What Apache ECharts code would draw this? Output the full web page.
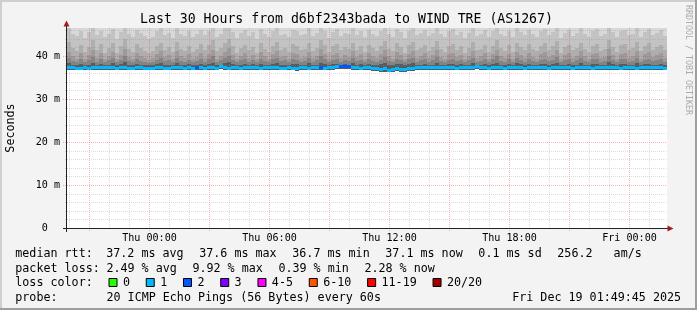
<!DOCTYPE html>
<html><head><meta charset="utf-8">
<script src="https://cdn.jsdelivr.net/npm/echarts@6/dist/echarts.min.js"></script>
<style>html,body{margin:0;padding:0;background:#f3f3f3;overflow:hidden}#c{width:697px;height:310px}</style>
</head><body><div id="c"></div>
<script>
// ---------------- data ----------------
const titleText = 'Last 30 Hours from d6bf2343bada to WIND TRE (AS1267)';
const yAxisName = 'Seconds';
const watermark = 'RRDTOOL / TOBI OETIKER';
// time in hours relative to Thu 00:00
const startHour = -4.125, endHour = 25.875, stepHours = 0.2;
const xLabelHours = [0, 6, 12, 18, 24];
const xLabels = ['Thu 00:00', 'Thu 06:00', 'Thu 12:00', 'Thu 18:00', 'Fri 00:00'];
const xMajorHours = [-3, 0, 3, 6, 9, 12, 15, 18, 21, 24];
const xMinorHours = [-4, -2, -1, 1, 2, 4, 5, 7, 8, 10, 11, 13, 14, 16, 17, 19, 20, 22, 23, 25];
const yMax = 46.5;
const yLabelValues = [0, 10, 20, 30, 40];
const yLabels = ['0  ', '10 m', '20 m', '30 m', '40 m'];
const yMajor = [10, 20, 30, 40];
const yMinor = [2, 4, 6, 8, 12, 14, 16, 18, 22, 24, 26, 28, 32, 34, 36, 38, 42, 44, 46];

// smoke: bottom of smoke (ms)
const smokeLow = [
36.8,36.8,36.7,36.8,36.8,36.7,36.8,36.8,36.8,36.8,
36.8,36.8,36.7,36.8,36.8,36.7,36.8,36.8,36.8,36.7,
36.7,36.8,36.8,36.8,36.7,36.8,36.8,36.8,36.8,36.7,
36.8,36.7,36.8,36.8,36.7,36.8,36.8,36.7,36.9,36.8,
36.7,36.8,36.8,36.7,36.8,36.8,36.8,36.8,36.7,36.8,
36.8,36.8,36.8,36.7,36.7,36.8,36.8,36.6,36.8,36.8,
36.7,36.8,36.8,36.8,36.7,36.8,36.8,36.9,37.0,36.9,
36.9,36.8,36.8,36.7,36.8,36.8,36.6,36.4,36.3,36.3,
36.2,36.3,36.4,36.3,36.3,36.4,36.6,36.8,36.8,36.8,
36.8,36.8,36.8,36.8,36.8,36.8,36.8,36.7,36.8,36.8,
36.8,36.8,36.9,36.8,36.8,36.7,36.8,36.8,36.8,36.7,
36.8,36.8,36.8,36.8,36.7,36.8,36.8,36.8,36.8,36.8,
36.7,36.8,36.8,36.8,36.8,36.8,36.7,36.8,36.8,36.8,
36.8,36.7,36.8,36.8,36.8,36.8,36.8,36.8,36.7,36.8,
36.8,36.8,36.7,36.8,36.8,36.8,36.8,36.8,36.8,36.8];
// upper edges of the smoke bands (outer -> inner)
const smokeU3 = [
46.8,45.2,44.6,45.8,44.1,45.5,46.9,44.8,45.9,44.3,
45.1,46.2,44.0,45.6,47.2,45.0,44.4,46.0,45.3,44.7,
43.9,44.5,45.8,46.5,44.9,45.4,44.2,46.7,45.1,44.6,
45.7,44.3,45.0,46.1,44.8,45.9,47.0,44.5,45.2,46.4,
47.3,45.6,44.1,45.3,46.0,44.7,45.5,44.0,46.3,45.1,
44.4,45.8,46.6,44.9,45.2,44.3,46.1,45.7,44.8,45.0,
46.4,44.6,45.3,47.1,45.9,44.2,45.6,46.2,44.7,45.4,
45.0,46.5,44.9,45.7,44.4,46.0,45.2,44.6,45.8,46.8,
45.1,44.5,46.3,45.5,44.2,45.9,46.7,44.8,45.3,46.0,
44.6,45.4,46.9,45.0,44.3,45.7,46.2,44.9,45.6,44.1,
45.3,46.6,44.7,45.1,46.0,44.4,45.8,47.0,45.2,44.6,
45.9,44.3,46.4,45.5,44.8,46.1,45.0,44.5,45.7,46.3,
44.9,45.6,46.8,44.2,45.4,46.0,44.7,45.3,46.5,45.1,
44.4,45.8,46.2,44.6,45.0,47.2,45.5,44.3,45.9,46.1,
44.8,45.2,46.7,44.5,45.6,46.3,44.9,45.4,46.0,44.7];
const smokeU4 = [
43.2,41.8,41.1,42.5,40.9,42.0,43.6,41.3,42.8,40.7,
41.9,43.0,40.8,42.2,43.9,41.6,41.0,42.7,41.8,41.2,
40.6,41.1,42.4,43.1,41.5,42.0,40.9,43.3,41.7,41.2,
42.3,41.0,41.6,42.8,41.4,42.5,43.7,41.1,41.9,43.0,
44.0,42.2,40.8,41.9,42.6,41.3,42.1,40.7,42.9,41.7,
41.0,42.4,43.2,41.5,41.9,40.9,42.7,42.3,41.4,41.6,
43.0,41.2,41.9,43.8,42.5,40.9,42.2,42.8,41.3,42.0,
41.6,43.1,41.5,42.3,41.0,42.6,41.8,41.2,42.4,43.4,
41.7,41.1,42.9,42.1,40.8,42.5,43.3,41.4,41.9,42.6,
41.2,42.0,43.5,41.6,40.9,42.3,42.8,41.5,42.2,40.8,
41.9,43.2,41.3,41.7,42.6,41.0,42.4,43.6,41.8,41.2,
42.5,40.9,43.0,42.1,41.4,42.7,41.6,41.1,42.3,42.9,
41.5,42.2,43.4,40.8,42.0,42.6,41.3,41.9,43.1,41.7,
41.0,42.4,42.8,41.2,41.6,43.8,42.1,40.9,42.5,42.7,
41.4,41.8,43.3,41.1,42.2,42.9,41.5,42.0,42.6,41.3];
const smokeU5 = [
41.0,39.9,39.4,40.6,39.3,40.2,41.4,39.6,40.8,39.2,
40.1,41.0,39.3,40.3,41.7,39.8,39.4,40.7,40.0,39.5,
39.1,39.5,40.4,41.1,39.7,40.2,39.3,41.2,39.9,39.5,
40.4,39.4,39.8,40.8,39.6,40.5,41.5,39.4,40.1,41.0,
41.8,40.3,39.3,40.1,40.6,39.6,40.3,39.2,40.9,39.9,
39.4,40.5,41.2,39.7,40.1,39.3,40.7,40.4,39.6,39.8,
41.0,39.5,40.1,41.6,40.5,39.3,40.3,40.8,39.6,40.2,
39.8,41.1,39.7,40.4,39.4,40.6,40.0,39.5,40.4,41.3,
39.9,39.4,40.9,40.3,39.2,40.5,41.2,39.6,40.1,40.6,
39.5,40.2,41.4,39.8,39.3,40.4,40.8,39.7,40.3,39.2,
40.1,41.2,39.6,39.9,40.6,39.4,40.5,41.5,40.0,39.5,
40.5,39.3,41.0,40.3,39.6,40.7,39.8,39.4,40.4,40.9,
39.7,40.3,41.3,39.2,40.2,40.6,39.6,40.1,41.1,39.9,
39.4,40.5,40.8,39.5,39.8,41.6,40.3,39.3,40.5,40.7,
39.6,40.0,41.2,39.4,40.4,40.9,39.7,40.2,40.6,39.5];
const smokeU6 = [
39.5,38.9,38.6,39.3,38.5,39.0,39.8,38.7,39.4,38.5,
39.0,39.5,38.5,39.1,39.9,38.8,38.6,39.3,38.9,38.6,
38.4,38.6,39.1,39.6,38.8,39.0,38.5,39.6,38.9,38.6,
39.1,38.6,38.8,39.4,38.7,39.2,39.9,38.6,39.0,39.5,
40.0,39.1,38.5,39.0,39.3,38.7,39.1,38.5,39.4,38.9,
38.6,39.2,39.6,38.8,39.0,38.5,39.3,39.1,38.7,38.8,
39.5,38.6,39.0,39.9,39.2,38.5,39.1,39.4,38.7,39.0,
38.8,39.6,38.8,39.1,38.6,39.3,38.9,38.6,39.1,39.7,
38.9,38.6,39.4,39.1,38.5,39.2,39.6,38.7,39.0,39.3,
38.6,39.0,39.8,38.8,38.5,39.1,39.4,38.8,39.1,38.5,
39.0,39.6,38.7,38.9,39.3,38.6,39.2,39.9,38.9,38.6,
39.2,38.5,39.5,39.1,38.7,39.3,38.8,38.6,39.1,39.4,
38.8,39.1,39.7,38.5,39.0,39.3,38.7,39.0,39.6,38.9,
38.6,39.2,39.4,38.6,38.8,40.0,39.1,38.5,39.2,39.3,
38.7,38.9,39.6,38.6,39.1,39.4,38.8,39.0,39.3,38.6];
const smokeU7 = [
38.3,38.0,37.9,38.2,37.8,38.0,38.4,37.9,38.2,37.8,
38.0,38.3,37.8,38.1,38.5,38.0,37.9,38.2,38.0,37.9,
37.8,37.9,38.1,38.3,38.0,38.0,37.8,38.3,38.0,37.9,
38.1,37.9,38.0,38.2,37.9,38.1,38.4,37.9,38.0,38.3,
38.5,38.1,37.8,38.0,38.2,37.9,38.1,37.8,38.2,38.0,
37.9,38.1,38.3,38.0,38.0,37.8,38.2,38.1,37.9,38.0,
38.3,37.9,38.0,38.4,38.1,37.8,38.1,38.2,38.0,38.1,
38.0,38.3,38.0,38.1,37.9,38.2,38.0,37.9,38.1,38.3,
38.0,37.9,38.2,38.1,37.8,38.1,38.3,37.9,38.0,38.2,
37.9,38.0,38.4,38.0,37.8,38.1,38.2,38.0,38.1,37.8,
38.0,38.3,37.9,38.0,38.2,37.9,38.1,38.4,38.0,37.9,
38.1,37.8,38.3,38.1,37.9,38.2,38.0,37.9,38.1,38.2,
38.0,38.1,38.3,37.8,38.0,38.2,37.9,38.0,38.3,38.0,
37.9,38.1,38.2,37.9,38.0,38.5,38.1,37.8,38.1,38.2,
37.9,38.0,38.3,37.9,38.1,38.2,38.0,38.0,38.2,37.9];
// median rtt (ms) per 12 min step
const medianRtt = [
37.3,37.3,37.2,37.2,37.3,37.2,37.3,37.4,37.4,37.3,
37.4,37.3,37.2,37.3,37.3,37.2,37.2,37.3,37.3,37.2,
37.2,37.2,37.3,37.3,37.2,37.2,37.3,37.3,37.3,37.2,
37.3,37.2,37.3,37.3,37.2,37.3,37.3,37.2,37.5,37.3,
37.2,37.3,37.3,37.2,37.3,37.4,37.3,37.3,37.2,37.3,
37.3,37.4,37.3,37.2,37.2,37.3,37.2,37.1,37.3,37.3,
37.2,37.3,37.3,37.3,37.2,37.3,37.4,37.5,37.6,37.6,
37.5,37.3,37.3,37.2,37.3,37.3,37.2,37.0,36.9,37.0,
36.7,36.9,37.0,36.9,36.9,37.0,37.2,37.3,37.3,37.3,
37.3,37.3,37.3,37.3,37.4,37.3,37.3,37.2,37.3,37.3,
37.3,37.3,37.5,37.3,37.3,37.2,37.3,37.3,37.3,37.2,
37.3,37.3,37.3,37.3,37.2,37.3,37.3,37.3,37.3,37.3,
37.2,37.3,37.3,37.3,37.3,37.3,37.2,37.3,37.3,37.3,
37.3,37.2,37.3,37.4,37.3,37.3,37.3,37.3,37.2,37.3,
37.3,37.3,37.2,37.3,37.3,37.3,37.3,37.4,37.3,37.2];
// lost pings (of 20) per step
const lossCount = [
1,1,1,1,1,1,1,1,1,1, 1,1,1,1,1,1,1,1,1,1, 1,1,1,1,1,1,1,1,1,1,
1,1,2,1,1,1,1,1,1,1, 1,1,1,1,1,1,1,1,1,1, 1,1,1,1,1,1,1,1,1,1,
1,1,1,2,1,1,1,1,2,2, 2,1,1,1,1,1,1,1,1,1, 1,1,1,1,1,1,1,1,1,1,
1,1,1,1,1,1,1,1,1,1, 1,1,1,1,1,1,1,1,1,1, 1,1,1,1,1,1,1,1,1,1,
1,1,1,1,1,1,1,1,1,1, 1,1,1,1,1,1,1,1,1,1, 1,1,1,1,1,1,1,1,1,1];
const lossLimits = [0, 1, 2, 3, 5, 10, 19, 20];
const lossLabels = ['0', '1', '2', '3', '4-5', '6-10', '11-19', '20/20'];
const lossColors = ['#26ff00', '#00b8ff', '#0059ff', '#7e00ff', '#ff00ff', '#ff5500', '#ff0000', '#a10000'];

const medianStats = ['37.2 ms avg', '37.6 ms max', '36.7 ms min', '37.1 ms now', '0.1 ms sd', '256.2', 'am/s'];
const lossStats = ['2.49 % avg', '9.92 % max', '0.39 % min', '2.28 % now'];
const rowLabels = ['median rtt:', 'packet loss:', 'loss color:', 'probe:'];
const probeText = '20 ICMP Echo Pings (56 Bytes) every 60s';
const dateText = 'Fri Dec 19 01:49:45 2025';

// ---------------- drawing ----------------
const MONO = "'DejaVu Sans Mono', monospace";
const bandColors = ['#d8d8d8', '#c3c3c3', '#aeaeae', '#9b9b9b', '#848484', '#5a5a5a'];
function lossColor(n) {
  for (let i = 0; i < lossLimits.length; i++) if (n <= lossLimits[i]) return lossColors[i];
  return lossColors[lossColors.length - 1];
}
const smokeData = smokeLow.map((lo, i) => [startHour + (i + 0.5) * stepHours, lo,
  yMax, smokeU3[i], smokeU4[i], smokeU5[i], smokeU6[i], smokeU7[i]]);
const medianData = medianRtt.map((v, i) => [startHour + (i + 0.5) * stepHours, v, lossCount[i]]);
const vGrid = xMinorHours.map(h => [h, 0, 0]).concat(xMajorHours.map(h => [h, 0, 1]));
const hGrid = yMinor.map(v => [startHour, v, 0]).concat(yMajor.map(v => [startHour, v, 1]));
const MINOR = 'rgba(140,140,140,0.3)', MAJOR = 'rgba(225,60,60,0.38)';

const graphics = [];
function txt(x, y, s, size, extra) {
  graphics.push(Object.assign({type: 'text', x: x, y: y, silent: true, z: 5,
    style: Object.assign({text: s, fill: '#000', font: size + 'px ' + MONO, align: 'left', verticalAlign: 'middle'}, extra && extra.style || {})},
    extra && extra.el || {}));
}
// frame shades
graphics.push({type: 'rect', shape: {x: 0, y: 0, width: 697, height: 2}, style: {fill: '#cfcfcf'}, silent: true});
graphics.push({type: 'rect', shape: {x: 0, y: 0, width: 2, height: 310}, style: {fill: '#cfcfcf'}, silent: true});
graphics.push({type: 'rect', shape: {x: 695, y: 0, width: 2, height: 310}, style: {fill: '#9e9e9e'}, silent: true});
graphics.push({type: 'rect', shape: {x: 0, y: 308, width: 697, height: 2}, style: {fill: '#9e9e9e'}, silent: true});
// axes
graphics.push({type: 'line', shape: {x1: 66.5, y1: 24, x2: 66.5, y2: 232}, style: {stroke: '#222', lineWidth: 1}, z: 10, silent: true});
graphics.push({type: 'line', shape: {x1: 63, y1: 228.5, x2: 669, y2: 228.5}, style: {stroke: '#222', lineWidth: 1}, z: 10, silent: true});
graphics.push({type: 'polygon', shape: {points: [[66.5, 20.5], [63.5, 26.5], [69.5, 26.5]]}, style: {fill: '#a11d1d'}, z: 10, silent: true});
graphics.push({type: 'polygon', shape: {points: [[673.5, 228.5], [667.5, 225.5], [667.5, 231.5]]}, style: {fill: '#a11d1d'}, z: 10, silent: true});
// title, unit, watermark
txt(346.5, 19.4, titleText, 13.2, {style: {align: 'center'}});
txt(11, 128, yAxisName, 11.7, {style: {align: 'center'}, el: {rotation: Math.PI / 2}});
txt(688, 60, watermark, 8.3, {style: {align: 'center', fill: '#aaaaaa'}, el: {rotation: -Math.PI / 2}});
// legend rows
const CW = 7.04, GLUE = 15.6;
const rowY = [254.0, 268.5, 283.0, 297.5];
rowLabels.forEach((s, r) => txt(15.3, rowY[r], s, 11.7));
let x = 106.2;
medianStats.forEach((s, i) => {
  const px = (i === medianStats.length - 1) ? 613.6 : x;
  txt(px, rowY[0], s, 11.7);
  x += s.length * CW + GLUE;
});
x = 106.4;
lossStats.forEach(s => { txt(x, rowY[1], s, 11.7); x += s.length * CW + GLUE; });
x = 108.5;
lossLabels.forEach((s, i) => {
  graphics.push({type: 'rect', shape: {x: x + 0.5, y: rowY[2] - 4.5, width: 8, height: 8}, style: {fill: lossColors[i], stroke: '#000', lineWidth: 1}, silent: true});
  txt(x + 14.4, rowY[2], s, 11.7);
  x += 14.6 + s.length * CW + GLUE;
});
txt(106.5, rowY[3], probeText, 11.7);
txt(512.2, rowY[3], dateText, 11.7);

const chart = echarts.init(document.getElementById('c'), null, {renderer: 'canvas'});
chart.setOption({
  backgroundColor: '#f3f3f3',
  animation: false,
  grid: {left: 67, top: 28, width: 600, height: 200, show: false},
  xAxis: {type: 'value', min: startHour, max: endHour,
    axisLine: {show: false}, axisTick: {show: false}, splitLine: {show: false},
    axisLabel: {customValues: xLabelHours, formatter: v => xLabels[xLabelHours.indexOf(v)] || '',
      fontFamily: MONO, fontSize: 10.1, color: '#000', margin: 10.5, verticalAlign: 'middle'}},
  yAxis: {type: 'value', min: 0, max: yMax,
    axisLine: {show: false}, axisTick: {show: false}, splitLine: {show: false},
    axisLabel: {customValues: yLabelValues, formatter: v => { const k = yLabelValues.indexOf(v); return k >= 0 ? yLabels[k] : ''; },
      fontFamily: MONO, fontSize: 10.1, color: '#000', margin: 7}},
  series: [
    {type: 'custom', name: 'canvas', z: 1, clip: false, silent: true, data: [[startHour, 0]],
      renderItem: (params, api) => {
        const cs = params.coordSys;
        return {type: 'rect', shape: {x: cs.x, y: cs.y, width: cs.width, height: cs.height}, style: {fill: '#ffffff'}};
      }},
    {type: 'custom', name: 'smoke', z: 2, clip: true, silent: true, data: smokeData,
      renderItem: (params, api) => {
        const h = api.value(0);
        const x0 = Math.round(api.coord([h - stepHours / 2, 0])[0]);
        const x1 = Math.round(api.coord([h + stepHours / 2, 0])[0]);
        const lo = Math.round(api.coord([h, api.value(1)])[1]);
        const children = [];
        for (let k = 2; k <= 7; k++) {
          const top = Math.round(api.coord([h, Math.min(api.value(k), yMax)])[1]);
          children.push({type: 'rect', shape: {x: x0, y: top, width: x1 - x0, height: lo - top}, style: {fill: bandColors[k - 2]}});
        }
        return {type: 'group', children};
      }},
    {type: 'custom', name: 'vgrid', z: 3, clip: false, silent: true, data: vGrid,
      renderItem: (params, api) => {
        const cs = params.coordSys;
        const gx = Math.floor(api.coord([api.value(0), 0])[0]) + 0.5;
        const major = api.value(2) === 1;
        return {type: 'line', shape: {x1: gx, y1: cs.y, x2: gx, y2: cs.y + cs.height + (major ? 3 : 0)},
          style: {stroke: major ? MAJOR : MINOR, lineWidth: 1, lineDash: [1, 1]}};
      }},
    {type: 'custom', name: 'hgrid', z: 3, clip: false, silent: true, data: hGrid,
      renderItem: (params, api) => {
        const cs = params.coordSys;
        const gy = Math.round(api.coord([api.value(0), api.value(1)])[1]) + 0.5;
        const major = api.value(2) === 1;
        return {type: 'line', shape: {x1: cs.x - (major ? 4 : 2), y1: gy, x2: cs.x + cs.width, y2: gy},
          style: {stroke: major ? MAJOR : MINOR, lineWidth: 1, lineDash: [1, 1]}};
      }},
    {type: 'custom', name: 'median', z: 4, clip: true, silent: true, data: medianData,
      renderItem: (params, api) => {
        const h = api.value(0);
        const x0 = Math.round(api.coord([h - stepHours / 2, 0])[0]);
        const x1 = Math.round(api.coord([h + stepHours / 2, 0])[0]);
        const y = api.coord([h, api.value(1)])[1];
        return {type: 'rect', shape: {x: x0, y: Math.round(y - 1.5), width: x1 - x0, height: 3},
          style: {fill: lossColor(api.value(2))}};
      }}
  ],
  graphic: graphics
});
</script></body></html>
